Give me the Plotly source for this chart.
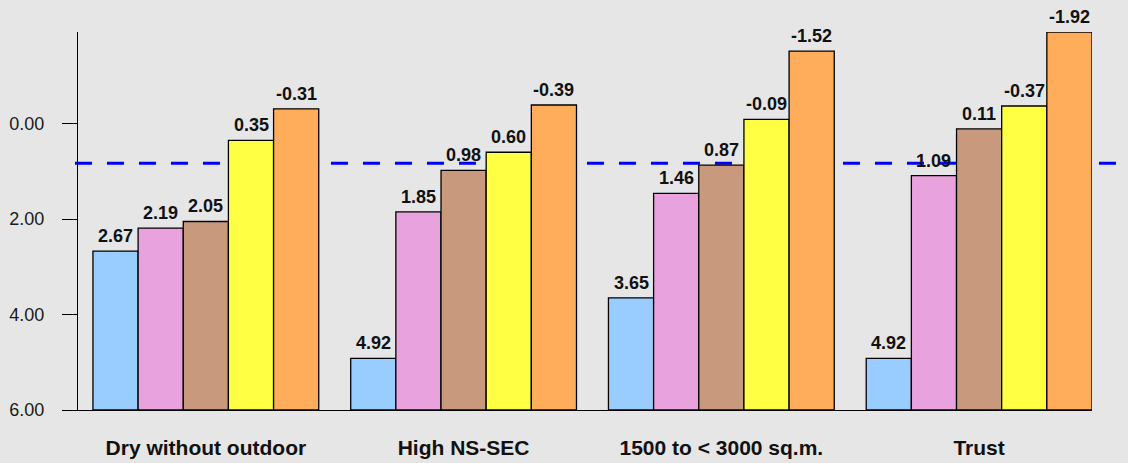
import plotly.graph_objects as go

categories = ["Dry without outdoor", "High NS-SEC", "1500 to < 3000 sq.m.", "Trust"]
series_names = ["Series 1", "Series 2", "Series 3", "Series 4", "Series 5"]
blue = [2.67, 4.92, 3.65, 4.92]
pink = [2.19, 1.85, 1.46, 1.09]
brown = [2.05, 0.98, 0.87, 0.11]
yellow = [0.35, 0.60, -0.09, -0.37]
orange = [-0.31, -0.39, -1.52, -1.92]
reference_value = 0.83
y_tick_values = [0, 2, 4, 6]
y_tick_labels = ["0.00", "2.00", "4.00", "6.00"]

colors = ["#99CCFF", "#E8A3DE", "#C8997D", "#FFFF44", "#FFAD5B"]
all_series = [blue, pink, brown, yellow, orange]

BASE = 6.0
BARGAP = 0.124
FONT = "Liberation Sans, Arial, Helvetica, sans-serif"

x_pos = list(range(len(categories)))
n_series = len(all_series)
bar_w = (1 - BARGAP) / n_series

fig = go.Figure()
for name, vals, col in zip(series_names, all_series, colors):
    fig.add_trace(go.Bar(
        x=x_pos,
        y=[v - BASE for v in vals],
        base=BASE,
        name=name,
        marker=dict(color=col, line=dict(color="black", width=1.3)),
        cliponaxis=False,
        showlegend=False,
        hoverinfo="skip",
    ))

# value labels above each bar
for j, vals in enumerate(all_series):
    off = (j - (n_series - 1) / 2) * bar_w
    for i, v in enumerate(vals):
        fig.add_annotation(
            x=x_pos[i] + off, y=v, xref="x", yref="y",
            text=f"<b>{v:.2f}</b>", showarrow=False,
            yanchor="bottom", xanchor="center", yshift=3,
            font=dict(family=FONT, size=18, color="#111111"),
        )

half = (1 - BARGAP) / 2
x_min = -0.5 + 0.004
x_max = len(categories) - 1 + half

fig.add_shape(type="line", xref="paper", yref="y",
              x0=-0.003, x1=1.0247, y0=reference_value, y1=reference_value,
              line=dict(color="#0000FF", width=3, dash="17px,15px"),
              layer="below")

fig.update_layout(
    width=1128, height=463,
    margin=dict(l=78, r=36, t=32, b=53, autoexpand=False),
    paper_bgcolor="#E6E6E6",
    plot_bgcolor="#E6E6E6",
    barmode="group",
    bargap=BARGAP,
    bargroupgap=0,
    font=dict(family=FONT, color="#111111"),
)
fig.update_xaxes(
    range=[x_min, x_max],
    tickvals=x_pos,
    ticktext=categories,
    tickfont=dict(family=FONT, size=21, color="#111111", weight="bold"),
    showline=True, linecolor="black", linewidth=1.3,
    ticks="", showgrid=False, zeroline=False,
    ticklabelstandoff=19, automargin=False,
)
fig.update_yaxes(
    range=[BASE, min(orange)],
    tickvals=y_tick_values,
    ticktext=y_tick_labels,
    tickfont=dict(family=FONT, size=18, color="#1a1a1a"),
    showline=True, linecolor="black", linewidth=1.3,
    ticks="outside", ticklen=15, tickcolor="black", tickwidth=1.3,
    showgrid=False, zeroline=False,
    ticklabelstandoff=14, automargin=False,
)

fig.write_html("out.html", config={"displayModeBar": False},
               post_script="document.body.style.margin='0';document.body.style.background='#E6E6E6';")
